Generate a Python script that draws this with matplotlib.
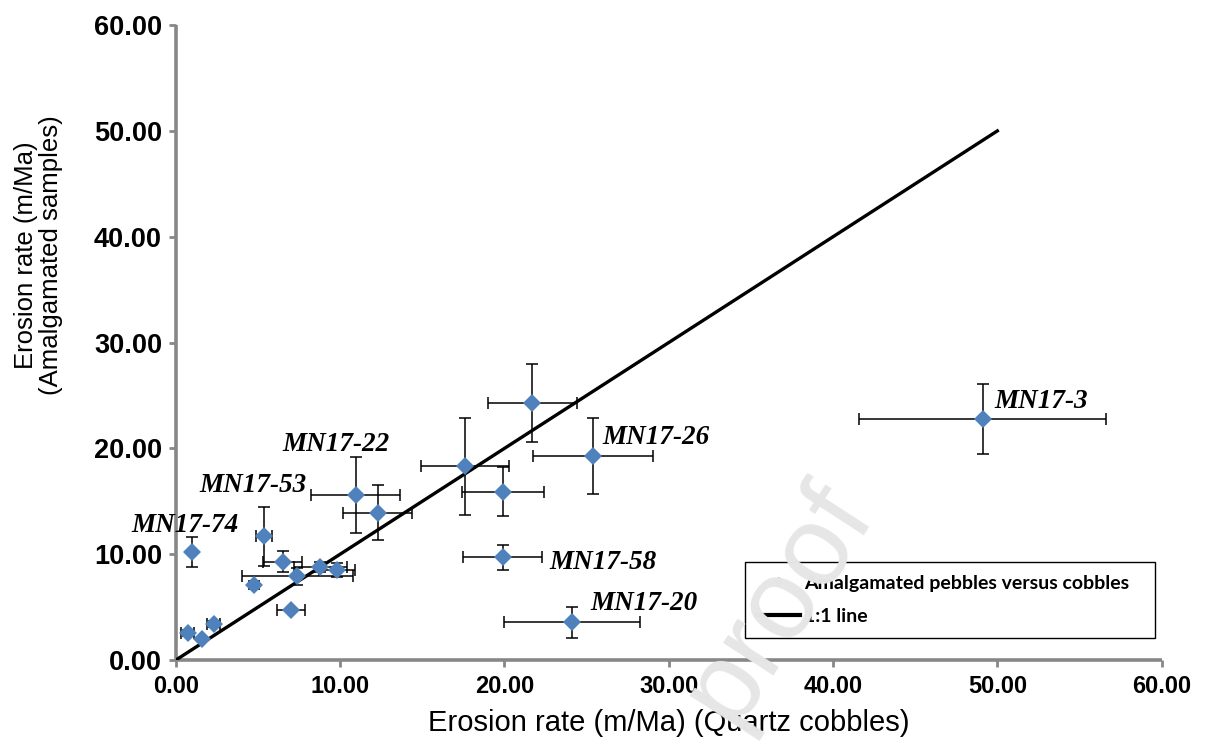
import matplotlib
matplotlib.use("Agg")
import matplotlib.pyplot as plt
from matplotlib.lines import Line2D

# ---- data ----
x_cobbles = [0.73, 1.6, 2.3, 1.0, 5.35, 6.5, 4.75, 7.4, 8.8, 9.8, 7.0,
             10.95, 12.3, 21.7, 17.6, 19.9, 25.4, 19.9, 24.1, 49.1]
y_amalg = [2.55, 2.0, 3.4, 10.2, 11.7, 9.3, 7.1, 7.9, 8.8, 8.5, 4.7,
           15.6, 13.9, 24.3, 18.3, 15.9, 19.3, 9.7, 3.55, 22.8]
x_err = [0.4, 0.0, 0.4, 0.0, 0.5, 1.2, 0.0, 3.4, 1.6, 1.1, 0.85,
         2.7, 2.1, 2.7, 2.7, 2.5, 3.65, 2.4, 4.15, 7.5]
y_err = [0.3, 0.0, 0.3, 1.4, 2.8, 1.0, 0.4, 0.8, 0.5, 0.7, 0.0,
         3.6, 2.6, 3.7, 4.6, 2.3, 3.6, 1.2, 1.5, 3.3]

label_names = ["MN17-3", "MN17-26", "MN17-22", "MN17-53", "MN17-74", "MN17-58", "MN17-20"]
label_x = [49.8, 25.95, 6.45, 1.4, -2.7, 22.75, 25.2]
label_y = [23.8, 20.4, 19.75, 15.9, 12.1, 8.6, 4.7]

line_x = [0.0, 50.0]
line_y = [0.0, 50.0]

x_ticks = [0, 10, 20, 30, 40, 50, 60]
y_ticks = [0, 10, 20, 30, 40, 50, 60]

legend_labels = ["Amalgamated pebbles versus cobbles", "1:1 line"]
x_title = "Erosion rate (m/Ma) (Quartz cobbles)"
y_title = "Erosion rate (m/Ma)\n(Amalgamated samples)"

fig = plt.figure(figsize=(12.05, 7.54), dpi=100)
ax = fig.add_axes([0.146, 0.1247, 0.818, 0.842])

blue = "#4F81BD"
spine_gray = "#878787"

ax.errorbar(x_cobbles, y_amalg, xerr=x_err, yerr=y_err, fmt="none",
            ecolor="black", elinewidth=1.1, capsize=4.5, capthick=1.1, zorder=2)
ax.plot(line_x, line_y, color="black", lw=2.4, zorder=3)
ax.plot(x_cobbles, y_amalg, linestyle="none", marker="D", markersize=9.3,
        color=blue, markeredgewidth=0, zorder=4)

for name, lx, ly in zip(label_names, label_x, label_y):
    ax.text(lx, ly, name, family="Liberation Serif", style="italic", weight="bold",
            fontsize=19.5, ha="left", va="baseline", clip_on=False, zorder=5)

ax.set_xlim(0, 60)
ax.set_ylim(0, 60)
ax.set_xticks(x_ticks)
ax.set_yticks(y_ticks)
ax.set_xticklabels([f"{v:.2f}" for v in x_ticks], family="Liberation Sans", weight="bold", fontsize=17)
ax.set_yticklabels([f"{v:.2f}" for v in y_ticks], family="Liberation Sans", weight="bold", fontsize=19.5)

for s in ["top", "right"]:
    ax.spines[s].set_visible(False)
for s in ["left", "bottom"]:
    ax.spines[s].set_color(spine_gray)
    ax.spines[s].set_linewidth(2.6)
    ax.spines[s].set_capstyle("butt")
ax.tick_params(axis="both", direction="out", length=5, width=2, color=spine_gray,
               labelcolor="black")
ax.tick_params(axis="y", pad=5)
ax.tick_params(axis="x", pad=6)

ax.set_xlabel(x_title, family="Liberation Sans", fontsize=21, labelpad=8)
ax.set_ylabel(y_title, family="Liberation Sans", fontsize=18.5, linespacing=1.05)
ax.yaxis.set_label_coords(-0.1146, 0.638)

handles = [Line2D([], [], linestyle="none", marker="D", markersize=5, color=blue, markeredgewidth=0),
           Line2D([], [], color="black", lw=3)]
leg = ax.legend(handles, legend_labels, loc="lower left",
                bbox_to_anchor=(0.577, 0.035, 0.416, 0.124), mode="expand",
                frameon=True, fancybox=False, framealpha=1, edgecolor="black",
                prop={"family": "Lato", "weight": "bold", "size": 14},
                handlelength=2.2, handletextpad=0.2, borderaxespad=0,
                labelspacing=0.85, borderpad=0.65)
leg.get_frame().set_linewidth(1.0)

# light watermark as in the reference
fig.text(0.646, 0.20, "proof", fontsize=82, color="#e6e6e6", rotation=57,
         ha="center", va="center", family="Liberation Sans", zorder=10)

fig.savefig("out.png", dpi=100)
